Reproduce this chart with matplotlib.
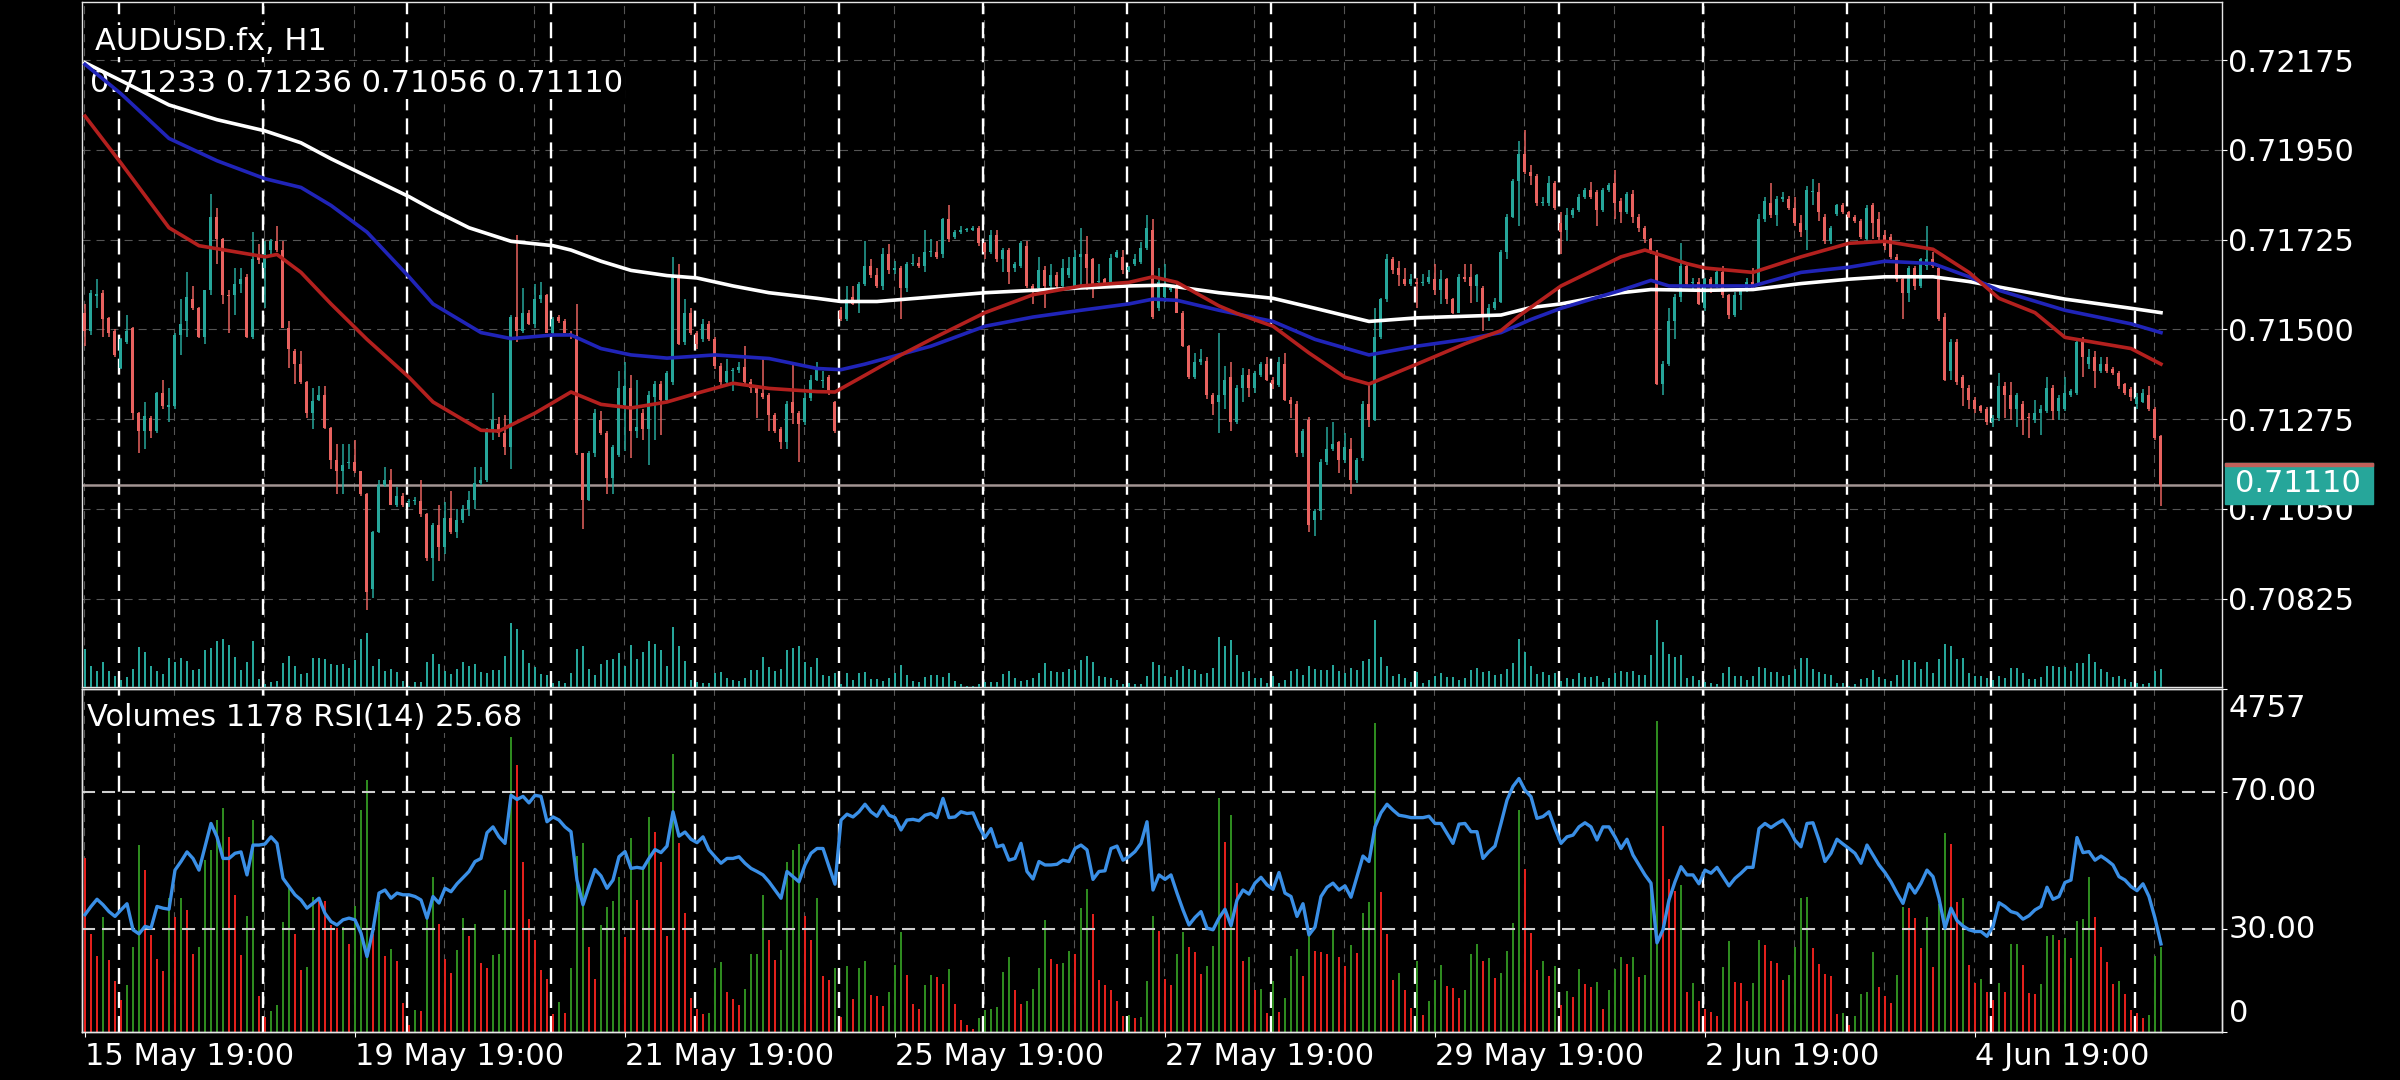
import numpy as np
import matplotlib.pyplot as plt
from matplotlib.patches import Rectangle

plt.rcParams['lines.scale_dashes'] = False
plt.rcParams['font.size'] = 22

# hourly AUDUSD bars, prices in points (1e-5)
o_pts = [
    71542, 71497, 71585, 71592, 71528, 71497, 71402, 71469, 71503, 71290,
    71245, 71279, 71245, 71340, 71305, 71307, 71486, 71520, 71576, 71553,
    71480, 71598, 71781, 71727, 71587, 71587, 71615, 71632, 71480, 71682,
    71654, 71699, 71721, 71699, 71503, 71447, 71413, 71368, 71290, 71324,
    71335, 71253, 71172, 71144, 71166, 71167, 71144, 71088, 70848, 70993,
    71111, 71122, 71060, 71083, 71066, 71070, 71070, 71038, 70926, 71010,
    70954, 71027, 70993, 71021, 71049, 71072, 71116, 71122, 71251, 71262,
    71240, 71206, 71531, 71497, 71542, 71514, 71576, 71587, 71492, 71531,
    71520, 71492, 71486, 71189, 71072, 71189, 71273, 71240, 71128, 71184,
    71310, 71352, 71245, 71290, 71251, 71330, 71363, 71324, 71368, 71632,
    71469, 71542, 71492, 71475, 71514, 71475, 71408, 71368, 71396, 71398,
    71405, 71368, 71357, 71340, 71335, 71285, 71251, 71217, 71318, 71290,
    71268, 71329, 71374, 71370, 71380, 71318, 71548, 71525, 71581, 71570,
    71615, 71660, 71637, 71609, 71688, 71648, 71654, 71604, 71665, 71667,
    71660, 71693, 71694, 71688, 71777, 71732, 71744, 71749, 71750, 71755,
    71716, 71693, 71738, 71676, 71699, 71654, 71660, 71710, 71609, 71604,
    71648, 71609, 71637, 71610, 71637, 71610, 71682, 71688, 71676, 71620,
    71626, 71620, 71682, 71682, 71650, 71665, 71670, 71704, 71749, 71553,
    71582, 71600, 71609, 71542, 71458, 71380, 71419, 71420, 71335, 71318,
    71335, 71380, 71268, 71352, 71385, 71352, 71385, 71413, 71374, 71360,
    71413, 71324, 71313, 71189, 71273, 71021, 71044, 71167, 71200, 71217,
    71172, 71200, 71122, 71178, 71312, 71273, 71480, 71576, 71676, 71654,
    71626, 71615, 71620, 71617, 71620, 71626, 71598, 71626, 71576, 71542,
    71632, 71632, 71609, 71604, 71531, 71553, 71570, 71693, 71783, 71872,
    71940, 71895, 71884, 71816, 71816, 71867, 71766, 71749, 71788, 71800,
    71833, 71850, 71845, 71800, 71850, 71867, 71822, 71794, 71839, 71783,
    71755, 71727, 71693, 71363, 71413, 71520, 71581, 71660, 71617, 71620,
    71553, 71626, 71609, 71643, 71587, 71536, 71587, 71598, 71620, 71615,
    71777, 71816, 71788, 71828, 71828, 71805, 71766, 71749, 71845, 71845,
    71783, 71721, 71790, 71811, 71794, 71783, 71772, 71727, 71811, 71777,
    71738, 71732, 71682, 71626, 71592, 71654, 71609, 71660, 71676, 71654,
    71531, 71396, 71469, 71380, 71352, 71324, 71307, 71301, 71268, 71279,
    71357, 71335, 71301, 71313, 71280, 71273, 71290, 71296, 71352, 71296,
    71301, 71335, 71340, 71469, 71413, 71430, 71396, 71413, 71400, 71391,
    71363, 71350, 71313, 71318, 71335, 71301, 71233,
]
h_pts = [
    71564, 71598, 71626, 71600, 71530, 71500, 71478, 71536, 71505, 71292,
    71318, 71282, 71342, 71374, 71352, 71490, 71576, 71643, 71609, 71555,
    71600, 71839, 71805, 71730, 71598, 71654, 71654, 71640, 71744, 71715,
    71721, 71727, 71760, 71721, 71520, 71450, 71447, 71370, 71352, 71357,
    71357, 71255, 71212, 71212, 71212, 71223, 71146, 71090, 70995, 71122,
    71155, 71150, 71105, 71090, 71075, 71080, 71122, 71040, 71015, 71060,
    71066, 71094, 71049, 71060, 71094, 71155, 71155, 71253, 71340, 71280,
    71285, 71535, 71738, 71604, 71548, 71615, 71620, 71590, 71531, 71537,
    71525, 71495, 71564, 71190, 71195, 71300, 71296, 71245, 71210, 71396,
    71419, 71385, 71374, 71300, 71345, 71370, 71370, 71396, 71682, 71665,
    71576, 71553, 71497, 71525, 71520, 71480, 71415, 71425, 71402, 71419,
    71458, 71375, 71360, 71430, 71340, 71290, 71255, 71320, 71419, 71295,
    71340, 71385, 71419, 71396, 71385, 71320, 71555, 71609, 71609, 71620,
    71721, 71676, 71654, 71705, 71715, 71671, 71660, 71670, 71688, 71682,
    71749, 71727, 71721, 71780, 71811, 71750, 71760, 71755, 71760, 71760,
    71720, 71750, 71749, 71705, 71705, 71670, 71721, 71721, 71615, 71682,
    71660, 71665, 71645, 71676, 71682, 71700, 71755, 71735, 71680, 71665,
    71630, 71688, 71700, 71699, 71660, 71688, 71720, 71788, 71777, 71654,
    71665, 71610, 71615, 71545, 71462, 71441, 71452, 71430, 71340, 71492,
    71408, 71419, 71360, 71402, 71400, 71396, 71419, 71430, 71380, 71430,
    71441, 71330, 71320, 71250, 71280, 71050, 71175, 71256, 71268, 71220,
    71240, 71228, 71178, 71320, 71363, 71553, 71580, 71688, 71682, 71671,
    71654, 71640, 71630, 71640, 71650, 71665, 71648, 71630, 71580, 71640,
    71665, 71665, 71640, 71610, 71564, 71580, 71700, 71790, 71878, 71973,
    72001, 71912, 71890, 71833, 71884, 71872, 71794, 71805, 71805, 71840,
    71855, 71870, 71850, 71855, 71867, 71900, 71830, 71845, 71850, 71790,
    71760, 71730, 71700, 71420, 71553, 71590, 71716, 71665, 71630, 71630,
    71630, 71632, 71654, 71660, 71590, 71595, 71605, 71630, 71654, 71790,
    71833, 71867, 71835, 71845, 71835, 71833, 71788, 71860, 71878, 71867,
    71790, 71760, 71815, 71818, 71798, 71787, 71777, 71811, 71818, 71794,
    71749, 71740, 71690, 71630, 71660, 71660, 71680, 71760, 71693, 71660,
    71540, 71475, 71475, 71385, 71360, 71330, 71310, 71305, 71285, 71391,
    71368, 71368, 71340, 71320, 71290, 71324, 71310, 71380, 71360, 71335,
    71380, 71350, 71475, 71480, 71452, 71447, 71430, 71430, 71405, 71395,
    71365, 71355, 71340, 71350, 71357, 71305, 71236,
]
l_pts = [
    71458, 71486, 71553, 71480, 71480, 71430, 71400, 71464, 71273, 71189,
    71200, 71228, 71240, 71301, 71268, 71300, 71436, 71480, 71548, 71478,
    71464, 71587, 71665, 71564, 71492, 71536, 71592, 71478, 71475, 71665,
    71553, 71688, 71693, 71503, 71402, 71363, 71363, 71279, 71251, 71320,
    71250, 71150, 71088, 71088, 71150, 71140, 71083, 70797, 70826, 70990,
    71105, 71060, 71055, 71055, 71055, 71060, 71030, 70920, 70870, 70920,
    70937, 70988, 70976, 71015, 71032, 71049, 71110, 71118, 71223, 71230,
    71184, 71150, 71469, 71492, 71510, 71503, 71565, 71490, 71486, 71515,
    71490, 71475, 71184, 70999, 71070, 71180, 71234, 71088, 71088, 71180,
    71195, 71178, 71228, 71223, 71161, 71223, 71234, 71320, 71360, 71460,
    71460, 71486, 71450, 71469, 71470, 71400, 71360, 71360, 71346, 71390,
    71360, 71340, 71279, 71325, 71245, 71240, 71200, 71200, 71262, 71167,
    71260, 71320, 71370, 71352, 71335, 71240, 71520, 71520, 71560, 71542,
    71610, 71630, 71604, 71600, 71640, 71640, 71525, 71595, 71660, 71655,
    71643, 71682, 71677, 71680, 71720, 71727, 71740, 71745, 71748, 71710,
    71676, 71690, 71670, 71643, 71615, 71643, 71655, 71604, 71564, 71600,
    71553, 71600, 71605, 71605, 71630, 71605, 71610, 71600, 71580, 71610,
    71610, 71610, 71678, 71640, 71645, 71660, 71665, 71700, 71525, 71545,
    71570, 71595, 71540, 71455, 71375, 71375, 71410, 71325, 71285, 71240,
    71301, 71245, 71262, 71318, 71330, 71340, 71380, 71370, 71350, 71355,
    71320, 71279, 71180, 71180, 70993, 70982, 71021, 71160, 71195, 71139,
    71165, 71088, 71116, 71170, 71256, 71270, 71475, 71570, 71640, 71609,
    71609, 71610, 71553, 71610, 71615, 71587, 71564, 71564, 71538, 71540,
    71620, 71565, 71570, 71497, 71520, 71548, 71565, 71676, 71780, 71760,
    71890, 71861, 71810, 71810, 71810, 71800, 71688, 71721, 71780, 71795,
    71828, 71828, 71760, 71795, 71845, 71777, 71766, 71790, 71766, 71744,
    71716, 71690, 71360, 71335, 71408, 71475, 71570, 71610, 71600, 71560,
    71545, 71592, 71605, 71580, 71525, 71530, 71548, 71595, 71600, 71610,
    71770, 71780, 71760, 71820, 71800, 71760, 71733, 71699, 71811, 71772,
    71715, 71715, 71785, 71790, 71780, 71768, 71727, 71722, 71727, 71725,
    71700, 71676, 71620, 71525, 71570, 71600, 71605, 71650, 71655, 71520,
    71370, 71374, 71360, 71307, 71300, 71290, 71290, 71260, 71256, 71270,
    71279, 71273, 71256, 71234, 71228, 71265, 71234, 71290, 71273, 71273,
    71295, 71330, 71335, 71380, 71400, 71352, 71390, 71390, 71385, 71350,
    71335, 71320, 71300, 71315, 71295, 71223, 71056,
]
c_pts = [
    71497, 71592, 71590, 71525, 71492, 71436, 71475, 71497, 71290, 71245,
    71284, 71245, 71340, 71307, 71310, 71486, 71514, 71581, 71553, 71480,
    71598, 71783, 71727, 71587, 71584, 71615, 71626, 71480, 71676, 71674,
    71688, 71721, 71699, 71503, 71452, 71413, 71368, 71290, 71320, 71335,
    71253, 71172, 71144, 71161, 71167, 71144, 71088, 70842, 70993, 71111,
    71122, 71060, 71083, 71060, 71068, 71072, 71038, 70926, 71010, 70954,
    71027, 70993, 71021, 71049, 71072, 71116, 71122, 71251, 71273, 71240,
    71206, 71531, 71497, 71542, 71514, 71576, 71587, 71492, 71525, 71520,
    71492, 71486, 71189, 71072, 71189, 71290, 71240, 71128, 71206, 71352,
    71357, 71245, 71256, 71251, 71335, 71363, 71324, 71391, 71632, 71464,
    71542, 71492, 71464, 71514, 71475, 71408, 71368, 71396, 71398, 71405,
    71368, 71352, 71340, 71330, 71285, 71245, 71217, 71312, 71290, 71262,
    71329, 71374, 71402, 71374, 71340, 71245, 71525, 71576, 71564, 71615,
    71660, 71637, 71609, 71688, 71648, 71654, 71604, 71665, 71667, 71660,
    71693, 71694, 71682, 71777, 71727, 71744, 71749, 71750, 71754, 71716,
    71693, 71738, 71676, 71699, 71643, 71665, 71716, 71609, 71600, 71648,
    71609, 71637, 71610, 71654, 71654, 71682, 71688, 71654, 71609, 71622,
    71615, 71679, 71693, 71648, 71656, 71677, 71704, 71755, 71531, 71620,
    71615, 71605, 71542, 71458, 71380, 71419, 71426, 71335, 71313, 71335,
    71374, 71268, 71352, 71385, 71352, 71391, 71413, 71374, 71363, 71419,
    71324, 71313, 71189, 71245, 71010, 71044, 71167, 71200, 71212, 71172,
    71206, 71122, 71172, 71312, 71273, 71480, 71576, 71676, 71648, 71637,
    71615, 71626, 71615, 71620, 71632, 71598, 71626, 71576, 71542, 71632,
    71626, 71609, 71637, 71531, 71553, 71570, 71693, 71783, 71872, 71940,
    71895, 71884, 71816, 71818, 71867, 71805, 71744, 71788, 71800, 71833,
    71850, 71833, 71800, 71850, 71861, 71816, 71794, 71839, 71783, 71755,
    71727, 71699, 71363, 71413, 71520, 71581, 71660, 71615, 71620, 71564,
    71626, 71609, 71643, 71587, 71536, 71587, 71598, 71620, 71604, 71777,
    71822, 71788, 71828, 71833, 71805, 71766, 71744, 71850, 71846, 71794,
    71721, 71755, 71811, 71794, 71783, 71772, 71732, 71805, 71766, 71732,
    71710, 71682, 71626, 71592, 71654, 71609, 71676, 71676, 71660, 71525,
    71374, 71469, 71368, 71352, 71324, 71301, 71296, 71268, 71279, 71357,
    71335, 71301, 71335, 71273, 71277, 71290, 71301, 71352, 71296, 71329,
    71340, 71346, 71469, 71430, 71430, 71396, 71413, 71396, 71391, 71357,
    71340, 71330, 71330, 71340, 71301, 71228, 71110,
]
volumes = [
    2409, 1366, 1051, 1598, 996, 704, 440, 658, 1181, 2594,
    2247, 1343, 1019, 843, 1853, 1589, 1853, 1691, 1079, 1181,
    2385, 2524, 2941, 3103, 2710, 1899, 1065, 1607, 2941, 496,
    208, 292, 371, 1529, 2015, 1357, 857, 903, 1867, 1853,
    1820, 1482, 1436, 1459, 1218, 1746, 3080, 3497, 1366, 1806,
    1051, 1158, 987, 403, 93, 301, 292, 1575, 2145, 1496,
    1019, 824, 1135, 1575, 1329, 1496, 959, 889, 1065, 1079,
    1969, 4090, 3706, 2362, 1561, 1274, 857, 741, 255, 417,
    264, 894, 2441, 2617, 1181, 741, 1482, 1737, 1820, 2154,
    1320, 2687, 1830, 2270, 2978, 2770, 2362, 1329, 3858, 2626,
    1644, 477, 324, 255, 265, 894, 973, 556, 463, 371,
    602, 1079, 1085, 1899, 1274, 996, 1135, 2362, 2524, 2608,
    1607, 1274, 1853, 774, 727, 894, 208, 913, 454, 894,
    982, 510, 496, 357, 556, 926, 1390, 787, 394, 324,
    648, 787, 764, 662, 871, 394, 162, 93, 46, 199,
    310, 324, 347, 834, 1042, 579, 394, 426, 602, 894,
    1552, 1010, 940, 959, 1126, 1075, 1723, 1982, 1635, 727,
    648, 579, 431, 218, 232, 199, 208, 704, 1607, 1403,
    732, 648, 1079, 1380, 1172, 1112, 811, 917, 1195, 3242,
    2631, 3011, 2071, 987, 1042, 588, 602, 264, 709, 278,
    477, 1051, 1158, 774, 1329, 1126, 1112, 1079, 1422, 1042,
    913, 1204, 1089, 1654, 1806, 4285, 1945, 1366, 718, 820,
    579, 338, 987, 232, 431, 718, 926, 635, 616, 477,
    579, 1079, 1218, 987, 1033, 750, 820, 1126, 1515, 3080,
    2256, 1376, 857, 987, 774, 913, 371, 565, 486, 880,
    662, 625, 695, 324, 588, 880, 1042, 940, 1042, 764,
    787, 2061, 4308, 2863, 2121, 1959, 2038, 556, 681, 426,
    324, 278, 218, 903, 1260, 695, 681, 431, 681, 1274,
    1204, 987, 959, 718, 792, 1181, 1853, 1876, 1167, 940,
    811, 774, 255, 264, 93, 218, 533, 556, 1112, 625,
    496, 403, 797, 1737, 1723, 1575, 1167, 1589, 903, 1769,
    2765, 2608, 1806, 1853, 926, 681, 732, 556, 449, 681,
    556, 1214, 1227, 926, 542, 533, 662, 1329, 1343, 1274,
    1297, 1028, 1542, 1566, 2145, 1589, 1181, 973, 672, 704,
    533, 310, 264, 199, 232, 1051, 1178,
]
rsi14 = [
    34.2, 36.6, 38.7, 37.1, 35.1, 33.7, 35.6, 37.4, 29.8, 28.6,
    30.8, 30.3, 36.6, 36.1, 35.8, 47.2, 49.7, 52.5, 50.6, 47.2,
    54.0, 60.8, 56.9, 50.6, 50.6, 52.1, 52.5, 45.8, 54.5, 54.5,
    54.8, 56.9, 55.0, 44.8, 42.4, 40.0, 38.5, 36.1, 37.5, 39.0,
    34.6, 32.2, 31.2, 32.7, 33.2, 32.7, 28.8, 22.0, 29.8, 40.5,
    41.4, 39.0, 40.5, 40.0, 40.0, 39.5, 38.5, 33.2, 39.5, 37.6,
    41.9, 40.9, 43.2, 45.0, 46.8, 49.7, 50.6, 58.1, 59.8, 56.9,
    55.0, 69.0, 67.8, 68.7, 66.8, 69.0, 68.7, 61.3, 62.7, 61.8,
    59.8, 58.4, 44.3, 37.1, 42.4, 47.4, 45.5, 41.9, 44.3, 51.1,
    52.6, 47.7, 48.0, 47.7, 50.6, 53.2, 52.3, 54.2, 64.2, 57.1,
    58.3, 56.2, 55.2, 56.9, 53.1, 51.1, 49.2, 50.6, 50.6, 51.1,
    49.2, 47.7, 46.8, 45.8, 43.8, 41.4, 39.0, 46.8, 45.3, 43.8,
    48.7, 52.1, 53.5, 53.5, 48.2, 43.1, 61.8, 63.5, 62.7, 64.2,
    66.4, 64.2, 62.9, 65.8, 63.2, 62.5, 58.9, 61.8, 62.0, 61.6,
    63.2, 63.7, 62.5, 68.1, 62.5, 62.7, 64.2, 63.7, 63.9, 59.8,
    56.7, 59.3, 54.0, 54.5, 50.1, 50.6, 55.0, 46.8, 44.6, 49.7,
    48.7, 48.7, 48.9, 50.1, 49.7, 53.5, 54.5, 53.1, 44.5, 46.8,
    47.0, 53.5, 54.2, 50.1, 51.1, 52.6, 55.0, 61.3, 41.4, 45.8,
    44.5, 45.8, 40.5, 35.6, 31.2, 33.4, 35.1, 30.3, 29.8, 33.2,
    35.8, 31.0, 38.5, 41.4, 40.2, 43.4, 45.1, 42.9, 41.6, 46.5,
    40.5, 39.5, 33.7, 37.4, 28.3, 30.6, 39.5, 42.2, 43.4, 41.4,
    42.6, 39.3, 45.3, 51.3, 49.7, 59.8, 63.9, 66.4, 64.7, 63.2,
    62.9, 62.5, 62.5, 62.5, 62.9, 60.8, 60.8, 57.9, 55.0, 60.6,
    60.8, 58.4, 58.4, 50.6, 52.6, 54.2, 60.8, 67.6, 71.6, 73.9,
    70.5, 68.6, 62.3, 62.8, 64.2, 59.3, 55.0, 56.9, 57.4, 59.8,
    61.0, 59.8, 56.0, 59.8, 59.8, 56.9, 53.5, 56.2, 51.6, 48.7,
    45.8, 43.4, 26.0, 29.8, 38.5, 43.8, 48.2, 45.8, 45.8, 43.2,
    47.2, 46.3, 48.0, 45.3, 42.6, 44.8, 46.3, 48.0, 48.0, 59.3,
    60.8, 59.6, 60.8, 61.8, 59.3, 55.9, 54.0, 60.8, 61.0, 55.9,
    49.7, 52.1, 56.2, 54.8, 53.5, 52.1, 49.2, 54.5, 51.6, 48.7,
    46.5, 43.8, 40.5, 37.5, 43.2, 40.5, 43.4, 47.2, 45.3, 39.0,
    30.3, 36.1, 32.5, 30.9, 29.8, 29.3, 29.3, 27.9, 30.8, 37.7,
    36.6, 35.1, 34.6, 32.9, 33.9, 35.6, 36.6, 42.2, 38.7, 39.5,
    43.6, 44.3, 56.7, 52.3, 52.6, 50.1, 51.3, 50.1, 48.7, 45.3,
    44.3, 42.4, 41.2, 43.2, 39.5, 33.2, 25.68,
]

# moving averages at some bars (bar index, points)
ma_red_bar = [0, 6, 14, 19, 30, 32, 36, 41, 47, 54, 58, 66, 69, 75, 81, 86, 91, 97, 102, 108,
              114, 122, 125, 130, 136, 141, 150, 158, 166, 174, 178, 182, 189, 192, 198, 204,
              210, 214, 222, 230, 236, 239, 246, 256, 260, 267, 270, 278, 286, 294, 300, 308,
              314, 319, 325, 330, 341, 346]
ma_red_pts = [72035, 71917, 71755, 71710, 71682, 71688, 71643, 71564, 71475, 71380, 71318,
              71247, 71245, 71290, 71343, 71312, 71303, 71318, 71340, 71365, 71352, 71344,
              71343, 71385, 71436, 71475, 71542, 71587, 71609, 71618, 71632, 71618, 71559,
              71540, 71508, 71441, 71380, 71363, 71413, 71464, 71497, 71534, 71609, 71682,
              71699, 71665, 71654, 71643, 71682, 71716, 71721, 71701, 71643, 71578, 71542,
              71480, 71452, 71413]
ma_blue_bar = [0, 6, 14, 22, 30, 36, 41, 47, 54, 58, 66, 71, 78, 81, 86, 91, 97, 105, 114, 122,
               126, 130, 141, 150, 158, 166, 174, 178, 182, 189, 198, 205, 214, 222, 230, 236,
               241, 246, 256, 261, 264, 270, 278, 286, 294, 300, 308, 314, 319, 330, 341, 346]
ma_blue_pts = [72165, 72091, 71979, 71923, 71878, 71856, 71811, 71744, 71632, 71564, 71492,
               71477, 71486, 71486, 71452, 71436, 71428, 71436, 71427, 71402, 71399, 71413,
               71458, 71508, 71531, 71548, 71564, 71576, 71573, 71548, 71520, 71475, 71436,
               71458, 71475, 71492, 71525, 71553, 71598, 71623, 71609, 71609, 71609, 71643,
               71656, 71671, 71665, 71632, 71598, 71548, 71514, 71492]
ma_white_bar = [0, 6, 14, 22, 30, 36, 41, 47, 54, 58, 64, 71, 78, 81, 86, 91, 97, 102, 108, 114,
                122, 126, 132, 141, 150, 158, 166, 174, 180, 189, 198, 205, 214, 222, 230, 236,
                241, 246, 256, 261, 270, 278, 286, 294, 300, 308, 314, 318, 322, 330, 341, 346]
ma_white_pts = [72169, 72124, 72063, 72026, 71998, 71968, 71928, 71884, 71833, 71800, 71755,
                71721, 71710, 71699, 71671, 71648, 71635, 71629, 71609, 71592, 71578, 71570,
                71570, 71581, 71592, 71598, 71604, 71609, 71611, 71592, 71578, 71553, 71520,
                71529, 71533, 71536, 71555, 71564, 71592, 71600, 71598, 71600, 71615, 71626,
                71632, 71632, 71620, 71609, 71598, 71576, 71553, 71542]

date_labels = ['15 May 19:00', '19 May 19:00', '21 May 19:00', '25 May 19:00',
               '27 May 19:00', '29 May 19:00', '2 Jun 19:00', '4 Jun 19:00']
date_bars = [0, 45, 90, 135, 180, 225, 270, 315]
price_ticks = [0.72175, 0.71950, 0.71725, 0.71500, 0.71275, 0.71050, 0.70825]
vol_scale_max = 4757

BULL = '#26a69a'
BEAR = '#e8625f'

opens = np.array(o_pts) / 1e5
highs = np.array(h_pts) / 1e5
lows = np.array(l_pts) / 1e5
closes = np.array(c_pts) / 1e5
vol = np.array(volumes)
rsi = np.array(rsi14)
idx = np.arange(len(closes))

W, H = 2400, 1080


def px_box(x0, y0, x1, y1):
    return [x0 / W, 1 - y1 / H, (x1 - x0) / W, (y1 - y0) / H]


fig = plt.figure(figsize=(24, 10.8), dpi=100, facecolor='black')
ax = fig.add_axes(px_box(82, 2, 2222, 687), facecolor='black')
ax2 = fig.add_axes(px_box(82, 689, 2222, 1032), facecolor='black', sharex=ax)
ax.set_xlim(-0.5, 356.17)
ax.set_ylim(0.706031, 0.723212)

# grid: thin gray dashes, bold white day separators
for p in price_ticks:
    ax.axhline(p, color='#555555', lw=0.8, dashes=(5.8, 4.3), zorder=1)
for a in (ax, ax2):
    for x in np.arange(-0.17, 356, 15):
        a.axvline(x, color='#555555', lw=0.8, dashes=(5.8, 4.3), zorder=1)
    for x in np.arange(5.67, 356, 24):
        a.axvline(x, color='white', lw=1.7, dashes=(11.5, 5.8), zorder=1.5)

# candles
up = closes >= opens
ccol = np.where(up, BULL, BEAR)
ax.vlines(idx, lows, highs, colors=ccol, lw=1.1, zorder=3)
body_h = np.maximum(np.abs(closes - opens), 0.000025)
ax.bar(idx, body_h, bottom=np.minimum(opens, closes), width=0.5, color=ccol,
       linewidth=0, zorder=3)

# moving averages
ax.plot(ma_white_bar, np.array(ma_white_pts) / 1e5, color='white', lw=2.6, zorder=4)
ax.plot(ma_blue_bar, np.array(ma_blue_pts) / 1e5, color='#2024b8', lw=2.6, zorder=4)
ax.plot(ma_red_bar, np.array(ma_red_pts) / 1e5, color='#b3201e', lw=2.6, zorder=4)

# current price line
ax.axhline(closes[-1], color='#a39593', lw=1.8, zorder=2)

# tick volumes along the bottom of the price panel
axv = ax.twinx()
axv.bar(idx, vol, width=0.33, color=BULL, linewidth=0)
axv.set_ylim(0, 44000)
axv.set_yticks([])
for s in axv.spines.values():
    s.set_visible(False)

# price scale on the right (after twinx, which moves ticks left)
ax.yaxis.tick_right()
ax.yaxis.set_label_position('right')
ax.set_yticks(price_ticks)
ax.set_yticklabels([f'{p:.5f}' for p in price_ticks])
ax.tick_params(axis='y', colors='white', length=3.6, width=0.8, pad=1, labelsize=22,
               left=False, labelleft=False, right=True, labelright=True)
ax.tick_params(axis='x', bottom=False, labelbottom=False)

# lower panel: volumes (green when rising) and RSI
vup = np.r_[False, vol[1:] > vol[:-1]]
vcol = np.where(vup, '#2e8b1f', '#e3201c')
ax2.bar(idx, vol, width=0.3, color=vcol, linewidth=0, zorder=2)
ax2.set_ylim(0, vol_scale_max)

ax3 = ax2.twinx()
ax3.set_ylim(0, 100)
ax3.axhline(70, color='#cfcfcf', lw=1.5, dashes=(9.4, 5), zorder=2)
ax3.axhline(30, color='#cfcfcf', lw=1.5, dashes=(9.4, 5), zorder=2)
ax3.plot(idx, rsi, color='#3a8fe6', lw=2.4, zorder=3)
ax3.set_yticks([0, 30, 70, 100])
ax3.set_yticklabels([])
ax3.tick_params(axis='y', colors='white', length=3.6, width=0.8)
ax2.set_yticks([])
ax2.tick_params(axis='y', left=False, labelleft=False)
ytr = ax3.get_yaxis_transform()
xr = 1 + 7 / 2140
ax3.text(xr, 94.3, f'{vol_scale_max}', transform=ytr, color='white', va='center', ha='left')
ax3.text(xr, 70, '70.00', transform=ytr, color='white', va='center', ha='left')
ax3.text(xr, 30, '30.00', transform=ytr, color='white', va='center', ha='left')
ax3.text(xr, 5.4, '0', transform=ytr, color='white', va='center', ha='left')

ax2.set_xticks(date_bars)
ax2.set_xticklabels(date_labels)
for lbl in ax2.get_xticklabels():
    lbl.set_ha('left')
ax2.tick_params(axis='x', colors='white', length=3.6, width=0.8, pad=3.6, labelsize=22)

for a in (ax, ax2, ax3):
    for s in a.spines.values():
        s.set_color('#e6e6e6')
        s.set_linewidth(1)

# header texts sit over the grid but under the averages
hdr = dict(color='white', va='center', ha='left', transform=fig.transFigure,
           clip_on=False, bbox=dict(facecolor='black', edgecolor='none', pad=1))
ax.text(95 / W, 1 - 41 / H, 'AUDUSD.fx, H1', zorder=2.5, **hdr)
ax.text(90 / W, 1 - 83 / H,
        f'{opens[-1]:.5f} {highs[-1]:.5f} {lows[-1]:.5f} {closes[-1]:.5f}',
        zorder=2.5, **hdr)
ax2.text(87 / W, 1 - 717 / H, f'Volumes {volumes[-1]} RSI(14) {rsi14[-1]:.2f}',
         zorder=2.5, **hdr)

# current price tag on the axis
fig.patches.append(Rectangle((2225 / W, 1 - 504 / H), 148 / W, 41 / H,
                             transform=fig.transFigure, color=BULL, zorder=2))
fig.patches.append(Rectangle((2225 / W, 1 - 466 / H), 148 / W, 3 / H,
                             transform=fig.transFigure, color='#c0605a', zorder=2))
fig.text(2235 / W, 1 - 484 / H, f'{closes[-1]:.5f}', color='white', va='center',
         ha='left', zorder=3)

fig.savefig('out.png', dpi=100, facecolor='black')
